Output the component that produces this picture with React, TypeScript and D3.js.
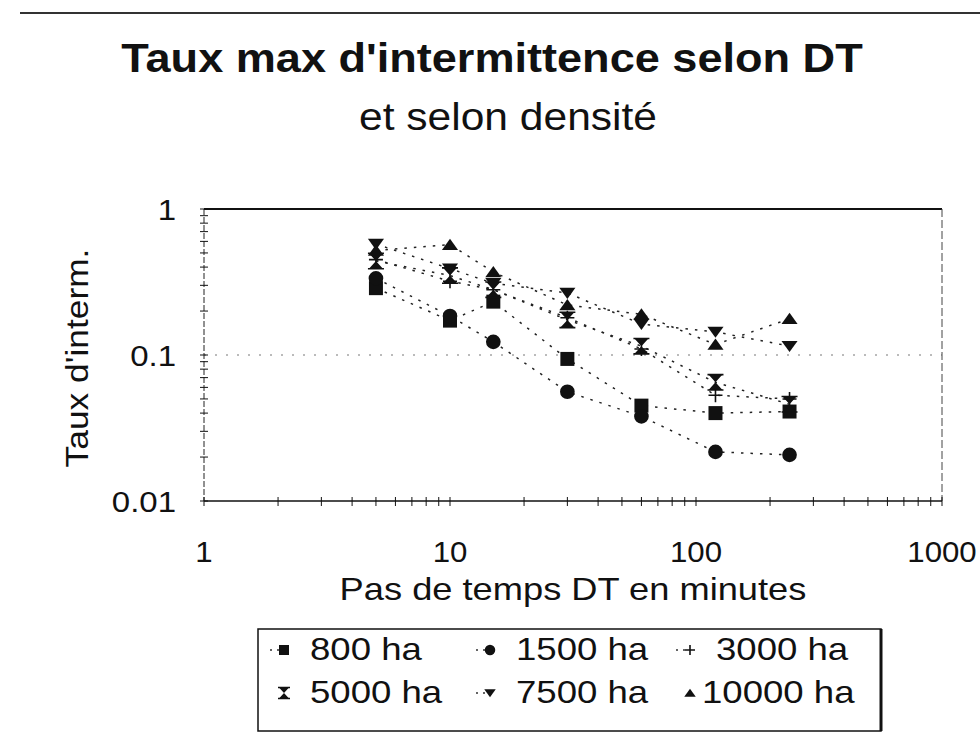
import React, { useEffect, useRef } from "react";
import * as d3 from "d3";

// pas de temps DT (minutes)
const dtValues = [5, 10, 15, 30, 60, 120, 240];

// taux max d'intermittence par densité
const s800 = [0.287, 0.172, 0.232, 0.094, 0.045, 0.04, 0.041];
const s1500 = [0.335, 0.185, 0.123, 0.056, 0.038, 0.0217, 0.0207];
const s3000 = [0.45, 0.32, 0.28, 0.18, 0.11, 0.053, 0.05];
const s5000 = [0.44, 0.35, 0.28, 0.174, 0.115, 0.065, 0.046];
const s7500 = [0.575, 0.39, 0.31, 0.266, 0.163, 0.144, 0.115];
const s10000 = [0.52, 0.57, 0.37, 0.22, 0.19, 0.118, 0.177];

const seriesNames = ["800 ha", "1500 ha", "3000 ha", "5000 ha", "7500 ha", "10000 ha"];
const seriesValues = [s800, s1500, s3000, s5000, s7500, s10000];
const markerTypes = ["square", "circle", "plus", "hourglass", "triDown", "triUp"];

const xTickValues = [1, 10, 100, 1000];
const yTickValues = [1, 0.1, 0.01];

const FONT = "'Liberation Sans', Arial, Helvetica, sans-serif";

// texte un peu élargi horizontalement, comme dans le scan
function txt(
  g: any,
  x: number,
  y: number,
  s: string,
  size: number,
  sx: number,
  anchor = "start",
  bold = false,
  rotate = 0
) {
  return g
    .append("text")
    .attr("transform", `translate(${x},${y}) rotate(${rotate}) scale(${sx},1)`)
    .attr("text-anchor", anchor)
    .attr("font-family", FONT)
    .attr("font-weight", bold ? "bold" : "normal")
    .attr("font-size", size)
    .attr("fill", "#111")
    .text(s);
}

function markerPath(type: string, s: number) {
  const h = s / 2;
  switch (type) {
    case "square":
      return `M${-h},${-h}H${h}V${h}H${-h}Z`;
    case "circle":
      return d3.symbol(d3.symbolCircle, Math.PI * h * h * 1.1)()!;
    case "plus":
      return `M${-h},0H${h}M0,${-h}V${h}`;
    case "hourglass":
      return `M${-h},${-h * 1.1}H${h}L0,0L${h},${h * 1.1}H${-h}L0,0Z`;
    case "triDown":
      return `M${-h * 1.15},${-h * 0.75}H${h * 1.15}L0,${h * 0.85}Z`;
    case "triUp":
      return `M${-h * 1.15},${h * 0.75}H${h * 1.15}L0,${-h * 0.85}Z`;
  }
  return "";
}

function drawMarker(g: any, type: string, x: number, y: number, s: number) {
  const p = g
    .append("path")
    .attr("d", markerPath(type, s))
    .attr("transform", `translate(${x},${y})`);
  if (type === "plus") {
    p.attr("fill", "none").attr("stroke", "#111").attr("stroke-width", 1.6);
  } else {
    p.attr("fill", "#111");
  }
  if (type === "hourglass") {
    g.append("path")
      .attr("d", `M${-s / 2 - 1},${-s * 0.55}H${s / 2 + 1}M${-s / 2 - 1},${s * 0.55}H${s / 2 + 1}`)
      .attr("transform", `translate(${x},${y})`)
      .attr("stroke", "#111")
      .attr("stroke-width", 1.6);
  }
}

function App() {
  const svgRef = useRef<SVGSVGElement>(null);

  useEffect(() => {
    document.body.style.margin = "0";
    const svg = d3.select(svgRef.current);
    svg.selectAll("*").remove();

    const left = 204,
      right = 942,
      top = 209,
      bottom = 501;

    const x = d3.scaleLog().domain([1, 1000]).range([left, right]);
    const y = d3.scaleLog().domain([0.01, 1]).range([bottom, top]);

    // trait en haut de page
    svg
      .append("line")
      .attr("x1", 20)
      .attr("x2", 980)
      .attr("y1", 13)
      .attr("y2", 13)
      .attr("stroke", "#333")
      .attr("stroke-width", 2);

    // titre
    txt(svg, 492, 72, "Taux max d'intermittence selon DT", 41, 1.1, "middle", true);
    txt(svg, 508, 130, "et selon densité", 38, 1.12, "middle");

    // grille à 0.1
    svg
      .append("line")
      .attr("x1", left)
      .attr("x2", right)
      .attr("y1", y(0.1))
      .attr("y2", y(0.1))
      .attr("stroke", "#777")
      .attr("stroke-width", 1)
      .attr("stroke-dasharray", "2,9");

    // cadre
    svg
      .append("line")
      .attr("x1", left)
      .attr("x2", right)
      .attr("y1", top)
      .attr("y2", top)
      .attr("stroke", "#111")
      .attr("stroke-width", 1.8);
    svg
      .append("line")
      .attr("x1", right)
      .attr("x2", right)
      .attr("y1", top)
      .attr("y2", bottom)
      .attr("stroke", "#444")
      .attr("stroke-width", 1)
      .attr("stroke-dasharray", "8,3");

    // axe X
    const xAxis = svg.append("g");
    xAxis
      .append("line")
      .attr("x1", left)
      .attr("x2", right)
      .attr("y1", bottom)
      .attr("y2", bottom)
      .attr("stroke", "#111")
      .attr("stroke-width", 1.3);
    xAxis
      .selectAll("line.tick")
      .data(x.ticks())
      .enter()
      .append("line")
      .attr("class", "tick")
      .attr("x1", (d) => x(d))
      .attr("x2", (d) => x(d))
      .attr("y1", bottom - 4)
      .attr("y2", bottom + 5)
      .attr("stroke", "#111")
      .attr("stroke-width", 1);
    xTickValues.forEach((v) => {
      txt(xAxis, x(v), 562, String(v), 30, 1.04, "middle");
    });

    // axe Y
    const yAxis = svg.append("g");
    yAxis
      .append("line")
      .attr("x1", left)
      .attr("x2", left)
      .attr("y1", top)
      .attr("y2", bottom)
      .attr("stroke", "#222")
      .attr("stroke-width", 1)
      .attr("stroke-dasharray", "6,2");
    yAxis
      .selectAll("line.tick")
      .data(y.ticks())
      .enter()
      .append("line")
      .attr("class", "tick")
      .attr("x1", left - 4)
      .attr("x2", left + 4)
      .attr("y1", (d) => y(d))
      .attr("y2", (d) => y(d))
      .attr("stroke", "#111")
      .attr("stroke-width", 1);
    yTickValues.forEach((v) => {
      txt(yAxis, 176, y(v) + 11, String(v), 30, 1.1, "end");
    });

    // titres d'axes
    txt(svg, 573, 600, "Pas de temps DT en minutes", 31, 1.17, "middle");
    txt(svg, 88, 358, "Taux d'interm.", 31, 1.14, "middle", false, -90);

    // séries
    const line = d3
      .line<number>()
      .x((_, i) => x(dtValues[i]))
      .y((d) => y(d));
    const plot = svg.append("g");
    seriesValues.forEach((vals) => {
      plot
        .append("path")
        .attr("d", line(vals))
        .attr("fill", "none")
        .attr("stroke", "#222")
        .attr("stroke-width", 1.5)
        .attr("stroke-dasharray", "2.5,7");
    });
    seriesValues.forEach((vals, si) => {
      vals.forEach((v, i) => {
        drawMarker(plot, markerTypes[si], x(dtValues[i]), y(v), 14);
      });
    });

    // légende
    const lg = svg.append("g");
    lg.append("rect")
      .attr("x", 258)
      .attr("y", 629)
      .attr("width", 623)
      .attr("height", 102)
      .attr("fill", "none")
      .attr("stroke", "#111")
      .attr("stroke-width", 1.5);
    lg.append("line")
      .attr("x1", 881)
      .attr("x2", 881)
      .attr("y1", 629)
      .attr("y2", 731)
      .attr("stroke", "#111")
      .attr("stroke-width", 3);
    const colX = [284, 490, 690];
    const rowY = [650, 693];
    seriesNames.forEach((name, i) => {
      const cx = colX[i % 3];
      const cy = rowY[Math.floor(i / 3)];
      if (i !== 3 && i !== 5) {
        lg.append("line")
          .attr("x1", cx - 14)
          .attr("x2", cx)
          .attr("y1", cy)
          .attr("y2", cy)
          .attr("stroke", "#333")
          .attr("stroke-width", 1.4)
          .attr("stroke-dasharray", "2,5");
      }
      drawMarker(lg, markerTypes[i], cx, cy, 10);
      txt(lg, cx + (i === 5 ? 12 : 26), cy + 10, name, 31, 1.18);
    });
  }, []);

  return (
    <div>
      <svg ref={svgRef} width={980} height={739} style={{ display: "block" }}></svg>
    </div>
  );
}

export default App;
